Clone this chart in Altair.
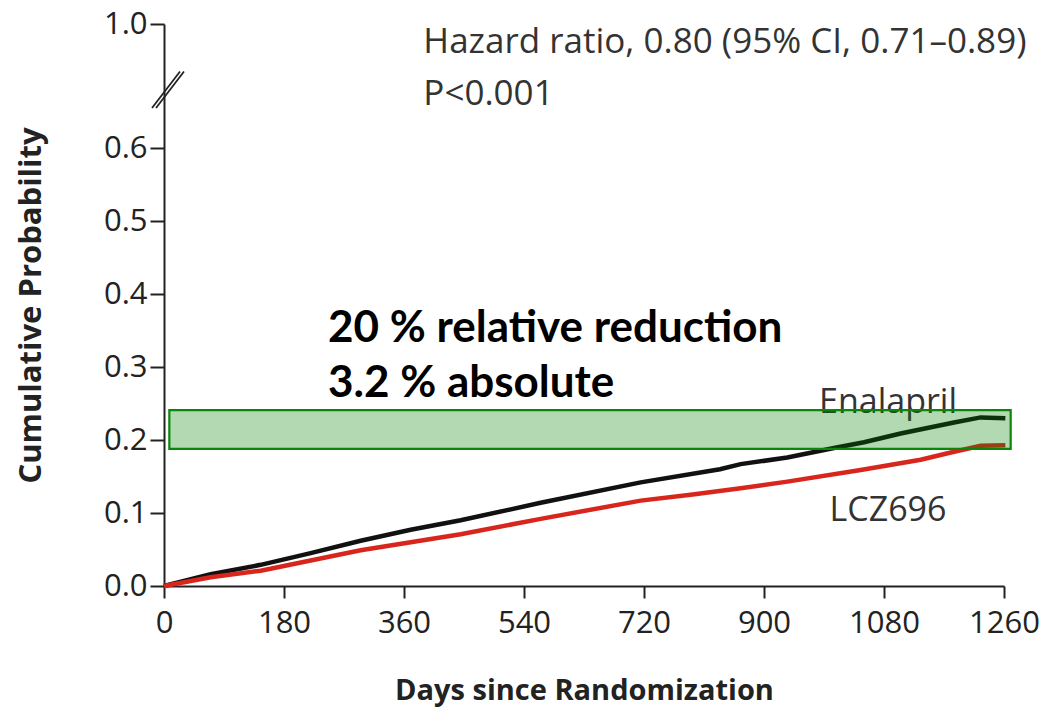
import altair as alt
import pandas as pd

# ---- data ----
enal_days = [0, 70, 145, 220, 295, 370, 445, 565, 715, 834, 865, 935, 1005, 1050, 1105, 1185, 1225, 1262]
enalapril = [0.0, 0.016, 0.029, 0.045, 0.062, 0.077, 0.090, 0.114, 0.142, 0.160, 0.167, 0.176, 0.189, 0.197, 0.209, 0.224, 0.231, 0.230]

lcz_days = [0, 70, 145, 220, 295, 370, 445, 565, 715, 790, 865, 935, 1045, 1135, 1185, 1225, 1262]
lcz696 = [0.0, 0.012, 0.021, 0.035, 0.049, 0.060, 0.071, 0.092, 0.117, 0.125, 0.134, 0.143, 0.159, 0.173, 0.184, 0.192, 0.193]

x_ticks = [0, 180, 360, 540, 720, 900, 1080, 1260]
y_ticks = [0.0, 0.1, 0.2, 0.3, 0.4, 0.5, 0.6, 0.77]   # 0.77 is drawn as the broken-axis "1.0"

band_days = [8, 1270]
band_probs = [0.188, 0.241]

break_x0 = [-18, -12]
break_x1 = [24, 30]
break_y0 = [0.655, 0.655]
break_y1 = [0.705, 0.705]

hr_lines = ["Hazard ratio, 0.80 (95% CI, 0.71\u20130.89)", "P<0.001"]
hr_x = [389, 389]
hr_y = [0.730, 0.659]

bold_lines = ["20 % relative reduction", "3.2 % absolute"]
bold_x = [246, 246]
bold_y = [0.334, 0.259]

series_labels = ["Enalapril", "LCZ696"]
series_x = [1086, 1086]
series_y = [0.237, 0.089]

FONT = "Open Sans"

curves = pd.DataFrame({
    "day": enal_days + lcz_days,
    "prob": enalapril + lcz696,
    "group": ["Enalapril"] * len(enal_days) + ["LCZ696"] * len(lcz_days),
})
band = pd.DataFrame({"day": [band_days[0]], "day2": [band_days[1]],
                     "prob": [band_probs[0]], "prob2": [band_probs[1]]})
breaks = pd.DataFrame({"day": break_x0, "day2": break_x1, "prob": break_y0, "prob2": break_y1})
hr = pd.DataFrame({"day": hr_x, "prob": hr_y, "t": hr_lines})
bold = pd.DataFrame({"day": bold_x, "prob": bold_y, "t": bold_lines})
lab = pd.DataFrame({"day": series_x, "prob": series_y, "t": series_labels})

xscale = alt.Scale(domain=[0, 1260], nice=False)
yscale = alt.Scale(domain=[0, 0.77], nice=False)

x_axis = alt.Axis(values=x_ticks, title="Days since Randomization", format="d",
                  tickSize=12, labelPadding=10, titlePadding=38, labelFlush=False)
y_axis = alt.Axis(values=y_ticks, title="Cumulative Probability",
                  labelExpr="datum.value > 0.7 ? '1.0' : format(datum.value, '.1f')",
                  tickSize=14, labelPadding=3, titlePadding=56, titleFontSize=31)


def X():
    return alt.X("day:Q", scale=xscale, axis=x_axis)


def Y():
    return alt.Y("prob:Q", scale=yscale, axis=y_axis)


lines = alt.Chart(curves).mark_line(strokeWidth=4.5).encode(
    x=X(), y=Y(),
    color=alt.Color("group:N", scale=alt.Scale(domain=["Enalapril", "LCZ696"],
                                               range=["#111111", "#d8261c"]), legend=None),
    order="day:Q",
)

rect = alt.Chart(band).mark_rect(fill="#008000", fillOpacity=0.3, stroke="#0a870a",
                                 strokeWidth=2.2).encode(
    x=X(), x2="day2:Q", y=Y(), y2="prob2:Q",
)

brk = alt.Chart(breaks).mark_rule(color="#222222", strokeWidth=1.8).encode(
    x=X(), x2="day2:Q", y=Y(), y2="prob2:Q",
)

hr_text = alt.Chart(hr).mark_text(align="left", baseline="alphabetic", font=FONT,
                                  fontSize=35, color="#333333").encode(
    x=X(), y=Y(), text="t:N")

bold_text = alt.Chart(bold).mark_text(align="left", baseline="alphabetic", font="Lato",
                                      fontWeight="bold", fontSize=44, color="#000000").encode(
    x=X(), y=Y(), text="t:N")

lab_text = alt.Chart(lab).mark_text(align="center", baseline="alphabetic", font=FONT,
                                    fontSize=34, color="#333333").encode(
    x=X(), y=Y(), text="t:N")

chart = alt.layer(lines, lab_text, rect, brk, hr_text, bold_text).properties(
    width=840, height=562,
    autosize=alt.AutoSizeParams(type="none"),
    padding={"left": 164, "top": 24, "right": 51, "bottom": 121},
    background="white",
).configure_view(stroke=None).configure_axis(
    grid=False,
    labelFont=FONT, labelFontSize=31, labelColor="#222222",
    titleFont=FONT, titleFontSize=29, titleFontWeight="bold", titleColor="#222222",
    domainColor="#222222", domainWidth=2, tickColor="#222222", tickWidth=2,
)

chart.save("out.html", embed_options={"renderer": "svg", "actions": False})
